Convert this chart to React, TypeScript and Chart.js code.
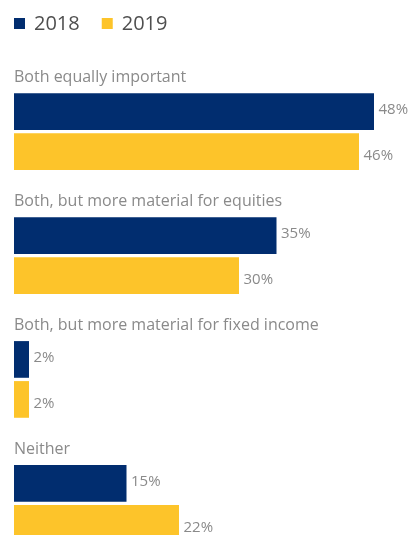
import React, { useEffect, useRef } from "react";
import { Chart, registerables } from "chart.js";

Chart.register(...registerables);

const categories = [
  "Both equally important",
  "Both, but more material for equities",
  "Both, but more material for fixed income",
  "Neither",
];
const seriesNames = ["2018", "2019"];
const values2018 = [48, 35, 2, 15];
const values2019 = [46, 30, 2, 22];
const seriesColors = ["#012d6f", "#fdc42a"];

const FONT = "'Open Sans', 'Noto Sans', sans-serif";

const labelsPlugin = {
  id: "customLabels",
  afterDatasetsDraw(chart: any) {
    const ctx = chart.ctx;
    ctx.save();
    // legend
    let lx = 14;
    ctx.font = `20px ${FONT}`;
    ctx.textBaseline = "middle";
    chart.data.datasets.forEach((ds: any) => {
      ctx.fillStyle = ds.backgroundColor;
      ctx.fillRect(lx, 18, 11, 11);
      ctx.fillStyle = "#4f4f4f";
      ctx.textAlign = "left";
      ctx.fillText(ds.label, lx + 20, 24.5);
      lx += 20 + ctx.measureText(ds.label).width + 22;
    });
    // category labels
    const meta0 = chart.getDatasetMeta(0);
    ctx.font = `16px ${FONT}`;
    ctx.fillStyle = "#8a8a8a";
    ctx.textBaseline = "alphabetic";
    meta0.data.forEach((el: any, i: number) => {
      const top = el.y - el.height / 2;
      ctx.fillText(chart.data.labels[i], 14, top - 11);
    });
    // value labels
    ctx.font = `15px ${FONT}`;
    ctx.fillStyle = "#8a8a8a";
    ctx.textBaseline = "middle";
    const yShift = [-2, 4];
    chart.data.datasets.forEach((ds: any, di: number) => {
      const meta = chart.getDatasetMeta(di);
      meta.data.forEach((el: any, i: number) => {
        ctx.fillText(ds.data[i] + "%", el.x + 4.5, el.y + yShift[di]);
      });
    });
    ctx.restore();
  },
};

export default function App() {
  const ref = useRef<HTMLCanvasElement>(null);
  useEffect(() => {
    if (!ref.current) return;
    const chart = new Chart(ref.current, {
      type: "bar",
      data: {
        labels: categories,
        datasets: [
          { label: seriesNames[0], data: values2018, backgroundColor: seriesColors[0], clip: false as any },
          { label: seriesNames[1], data: values2019, backgroundColor: seriesColors[1], clip: false as any },
        ],
      },
      options: {
        indexAxis: "y",
        animation: false,
        responsive: false,
        categoryPercentage: 0.6457,
        barPercentage: 0.9175,
        layout: { padding: { top: 131.7, bottom: 31.7, left: 14, right: 6 } },
        scales: {
          x: { display: false, min: 0, max: 52 },
          y: { display: false, offset: false },
        },
        plugins: {
          legend: { display: false },
          tooltip: { enabled: false },
        },
      } as any,
      plugins: [labelsPlugin],
    });
    return () => chart.destroy();
  }, []);
  return (
    <div style={{ position: "fixed", left: 0, top: 0, width: 410, height: 535, background: "#fff" }}>
      <canvas ref={ref} width={410} height={535} style={{ display: "block" }} />
    </div>
  );
}
